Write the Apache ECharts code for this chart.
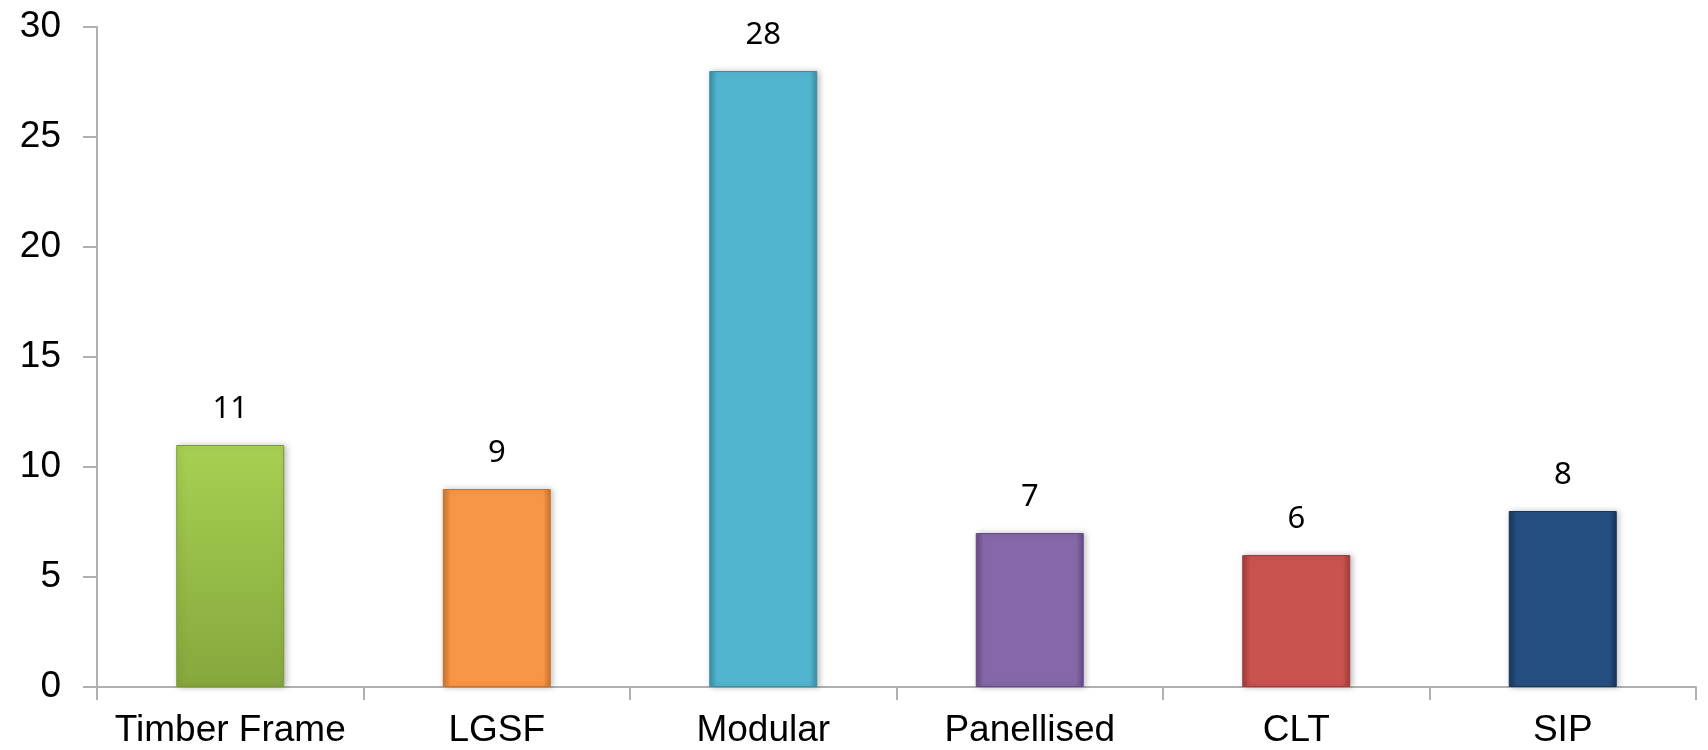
<!DOCTYPE html>
<html>
<head>
<meta charset="utf-8">
<script src="https://cdn.jsdelivr.net/npm/echarts@6/dist/echarts.min.js"></script>
<style>html,body{margin:0;padding:0;background:#fff;}#c{width:1708px;height:750px;}</style>
</head>
<body>
<div id="c"></div>
<script>
var categories = ['Timber Frame', 'LGSF', 'Modular', 'Panellised', 'CLT', 'SIP'];
var values = [11, 9, 28, 7, 6, 8];
var baseColors = ['#9cc54a', '#f79646', '#52b5cf', '#8667a8', '#c9534f', '#264f81'];
var edgeColors = ['#7a9a36', '#c8742f', '#3b8ea6', '#654b85', '#9e3c39', '#17355a'];
var topColors = ['#a8d255', '#fbb277', '#8ae0f2', '#b399d6', '#ef8a86', '#5f8cc4'];

var chart = echarts.init(document.getElementById('c'));
var data = values.map(function (v, i) {
  var grad;
  if (i === 0) {
    grad = new echarts.graphic.LinearGradient(0, 0, 0, 1, [
      {offset: 0, color: topColors[0]},
      {offset: 0.03, color: '#a6cf51'},
      {offset: 1, color: '#86a73d'}
    ]);
  } else {
    grad = new echarts.graphic.LinearGradient(0, 0, 1, 0, [
      {offset: 0, color: edgeColors[i]},
      {offset: 0.07, color: baseColors[i]},
      {offset: 0.93, color: baseColors[i]},
      {offset: 1, color: edgeColors[i]}
    ]);
  }
  return {
    value: v,
    itemStyle: {
      color: grad,
      borderColor: edgeColors[i],
      borderWidth: 1,
      shadowBlur: 6,
      shadowColor: 'rgba(0,0,0,0.25)',
      shadowOffsetX: 2,
      shadowOffsetY: 0
    }
  };
});

chart.setOption({
  backgroundColor: '#ffffff',
  animation: false,
  grid: {left: 97, right: 12, top: 27, bottom: 63, containLabel: false},
  xAxis: {
    type: 'category',
    data: categories,
    axisLine: {lineStyle: {color: '#b0b0b0', width: 2}},
    axisTick: {show: true, length: 13, lineStyle: {color: '#b0b0b0', width: 2}},
    axisLabel: {color: '#000', fontSize: 37, fontFamily: 'Liberation Sans, Arial, sans-serif', margin: 25, interval: 0}
  },
  yAxis: {
    type: 'value',
    min: 0,
    max: 30,
    interval: 5,
    splitLine: {show: false},
    axisLine: {show: true, lineStyle: {color: '#b0b0b0', width: 2}},
    axisTick: {show: true, length: 14, lineStyle: {color: '#b0b0b0', width: 2}},
    axisLabel: {color: '#000', fontSize: 37, fontFamily: 'Liberation Sans, Arial, sans-serif', margin: 36}
  },
  series: [{
    type: 'bar',
    data: data,
    barWidth: 108,
    label: {
      show: true,
      position: 'top',
      distance: 20,
      color: '#000',
      fontSize: 31,
      fontFamily: 'Noto Sans, Open Sans, sans-serif'
    }
  }]
});
</script>
</body>
</html>
